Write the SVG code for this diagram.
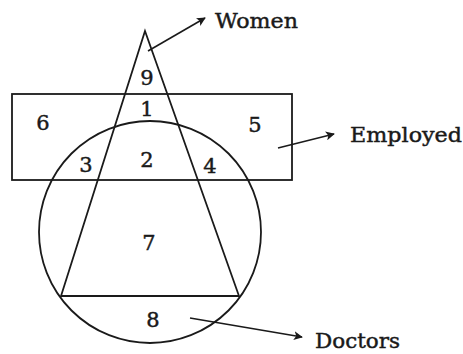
<svg xmlns="http://www.w3.org/2000/svg" width="463" height="354" viewBox="0 0 463 354">
<style>
.s{fill:none;stroke:#1a1a1a;stroke-width:1.8}
.a{fill:none;stroke:#1a1a1a;stroke-width:1.6}
text{font-family:"DejaVu Serif","Liberation Serif",serif;font-size:21px;fill:#1a1a1a;stroke:#1a1a1a;stroke-width:0.45}
.n{text-anchor:middle}
</style>
<defs>
<marker id="ah" viewBox="0 0 10 10" refX="9" refY="5" markerWidth="9" markerHeight="9" markerUnits="userSpaceOnUse" orient="auto">
<path d="M0,0 L10,5 L0,10 L2.5,5 Z" fill="#1a1a1a"/>
</marker>
</defs>
<rect width="463" height="354" fill="#ffffff"/>
<g id="employed">
<rect class="s" x="12" y="94" width="280" height="86"/>
</g>
<g id="doctors">
<circle class="s" cx="150" cy="232" r="111"/>
</g>
<g id="women">
<path class="s" d="M145,31 L61,296 L239,296 Z"/>
</g>
<g id="regions">
<text class="n" x="147" y="85">9</text>
<text class="n" x="147" y="116">1</text>
<text class="n" x="43" y="130">6</text>
<text class="n" x="255" y="132">5</text>
<text class="n" x="86" y="172">3</text>
<text class="n" x="147" y="167">2</text>
<text class="n" x="210" y="173">4</text>
<text class="n" x="149" y="250">7</text>
<text class="n" x="153" y="327">8</text>
</g>
<g id="connectors">
<line class="a" x1="148" y1="51" x2="205" y2="18" marker-end="url(#ah)"/>
<line class="a" x1="278" y1="148" x2="334" y2="134" marker-end="url(#ah)"/>
<line class="a" x1="190" y1="318" x2="302" y2="337" marker-end="url(#ah)"/>
</g>
<g id="labels">
<text x="215" y="28" textLength="83" lengthAdjust="spacingAndGlyphs">Women</text>
<text x="350" y="142" textLength="112" lengthAdjust="spacingAndGlyphs">Employed</text>
<text x="315" y="348" textLength="85" lengthAdjust="spacingAndGlyphs">Doctors</text>
</g>
</svg>
